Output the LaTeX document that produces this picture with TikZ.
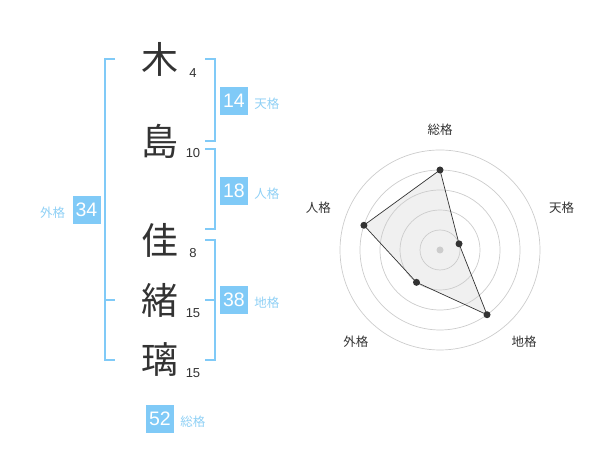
\documentclass[tikz,border=0pt]{standalone}
\usepackage{fontspec}
\setmainfont{Liberation Sans}
\newfontfamily\jp{Noto Sans CJK JP}
\usetikzlibrary{calc,positioning}
\definecolor{kaku}{HTML}{80CAF7}
\definecolor{kakutext}{HTML}{8FD0F5}
\definecolor{ink}{HTML}{333333}
\tikzset{
  kanji/.style={text=ink, font=\jp\fontsize{37}{37}\selectfont, inner sep=0pt},
  strokes/.style={text=ink, font=\fontsize{13}{13}\selectfont, inner sep=0pt},
  badge/.style={fill=kaku, text=white, font=\fontsize{19.5}{19.5}\selectfont, minimum size=28pt, inner sep=0pt},
  kakuname/.style={text=kakutext, font=\jp\fontsize{12.5}{12.5}\selectfont, inner sep=0pt},
  bracket/.style={draw=kaku, line width=2pt},
  ring/.style={draw=black!20, line width=0.7pt},
  axisname/.style={text=ink, font=\jp\fontsize{12.5}{12.5}\selectfont, inner sep=0pt},
  dot/.style={circle, fill=ink, inner sep=0pt, minimum size=7pt}
}

\begin{document}
\begin{tikzpicture}[x=1pt,y=1pt]
\useasboundingbox (0,0) rectangle (600,470);
\node[kanji] (c1) at (160,411) {木}; \node[strokes] (n1) at (193,397) {4};
\node[kanji] (c2) at (160,329) {島}; \node[strokes] (n2) at (193,317) {10};
\node[kanji] (c3) at (160,230) {佳}; \node[strokes] (n3) at (193,217) {8};
\node[kanji] (c4) at (160,170) {緒}; \node[strokes] (n4) at (193,157) {15};
\node[kanji] (c5) at (160,110) {璃}; \node[strokes] (n5) at (193,97) {15};
\coordinate (lx) at (105,0); \coordinate (lt) at (115,0);
\coordinate (rx) at (215,0); \coordinate (rt) at (205,0);
\draw[bracket] (c1 -| lt) -- (c1 -| lx) -- (c5 -| lx) -- (c5 -| lt);
\draw[bracket] (c4 -| lx) -- (c4 -| lt);
\draw[bracket] (c1 -| rt) -- (c1 -| rx) -- (c2 -| rx) -- (c2 -| rt);
\draw[bracket] ($(c2 -| rt)+(0,-8)$) -- ($(c2 -| rx)+(0,-8)$) -- ($(c3 -| rx)+(0,11)$) -- ($(c3 -| rt)+(0,11)$);
\draw[bracket] (c3 -| rt) -- (c3 -| rx) -- (c5 -| rx) -- (c5 -| rt);
\draw[bracket] (c4 -| rx) -- (c4 -| rt);
\node[badge] (ten) at (234,369) {14}; \node[kakuname, right=6pt of ten, yshift=-3pt] (tenl) {天格};
\node[badge] (jin) at (234,279) {18}; \node[kakuname, right=6pt of jin, yshift=-3pt] (jinl) {人格};
\node[badge] (chi) at (234,170) {38}; \node[kakuname, right=6pt of chi, yshift=-3pt] (chil) {地格};
\node[badge] (gai) at (86.5,260) {34}; \node[kakuname, left=7pt of gai, yshift=-3pt] (gail) {外格};
\node[badge] (sou) at (160,51) {52}; \node[kakuname, right=6pt of sou, yshift=-3pt] (soul) {総格};
% chart
\coordinate (o) at (440,220);
\fill[black!6] ($(o)+(90:80)$) -- ($(o)+(18:20)$) -- ($(o)+(-54:80)$) -- ($(o)+(-126:40)$) -- ($(o)+(162:80)$) -- cycle;
\foreach \r in {20,40,60,80,100} \draw[ring] (o) circle[radius=\r];
\fill[black!20] (o) circle[radius=3.5];
\node[dot] (d1) at ($(o)+(90:80)$) {};
\node[dot] (d2) at ($(o)+(18:20)$) {};
\node[dot] (d3) at ($(o)+(-54:80)$) {};
\node[dot] (d4) at ($(o)+(-126:40)$) {};
\node[dot] (d5) at ($(o)+(162:80)$) {};
\draw[ink, line width=0.7pt] (d1.center) -- (d2.center) -- (d3.center) -- (d4.center) -- (d5.center) -- cycle;
\node[axisname] (a1) at ($(o)+(90:120)$) {総格};
\node[axisname] (a2) at ($(o)+(19:128.7)$) {天格};
\node[axisname] (a3) at ($(o)+(-47.5:124.4)$) {地格};
\node[axisname] (a4) at ($(o)+(-132.5:124.4)$) {外格};
\node[axisname] (a5) at ($(o)+(161:128.7)$) {人格};
\end{tikzpicture}
\end{document}
